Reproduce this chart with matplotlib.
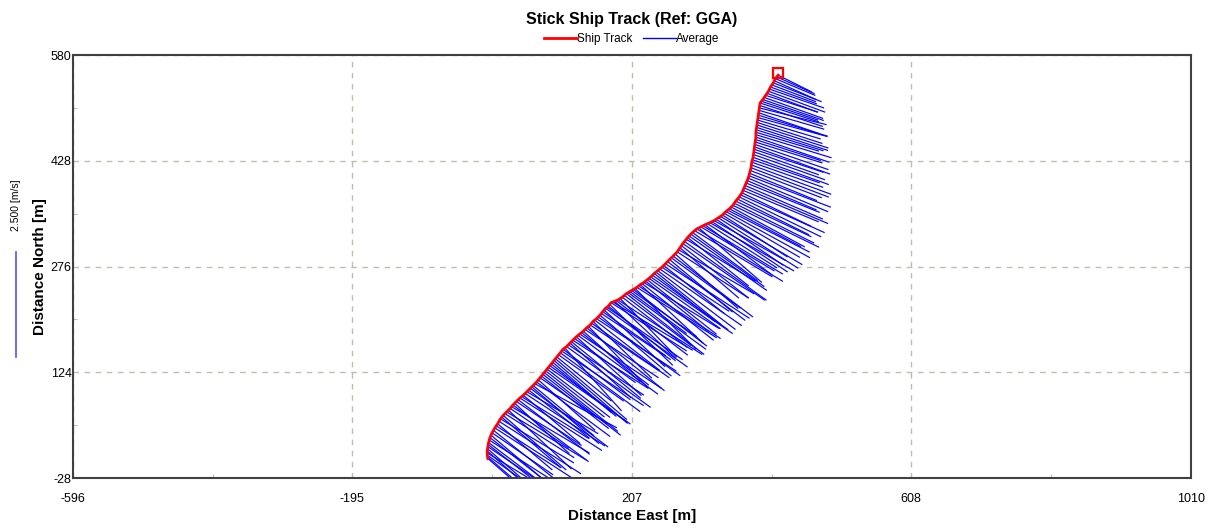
import matplotlib
matplotlib.use("Agg")
import matplotlib.pyplot as plt
import numpy as np
from matplotlib.collections import LineCollection
from matplotlib.lines import Line2D

plt.rcParams["font.family"] = ["Liberation Sans", "DejaVu Sans"]
plt.rcParams["axes.unicode_minus"] = False

# ship track (distance east / north from start, m), one point per ensemble
track_east = [
    0, -0.5, -1, -1, -1, -0.5, 0, 0.5, 1, 2, 3, 4.5, 6, 8, 10, 12, 14, 16, 18, 20, 22, 24.5,
    27, 29.5, 32, 34, 36, 38.5, 41, 43.5, 46, 48.5, 51, 53.5, 56, 58.5, 61, 63, 65, 67.5, 70,
    72.5, 75,
    77, 79, 81, 83, 85, 87, 89, 91, 93, 95, 97, 99, 101.5, 104, 106, 108, 110.5, 113, 115.5,
    118, 120, 122, 124.5, 127, 129.5, 132, 134.5, 137, 139.5, 142, 144.5, 147, 149, 151, 153.5,
    156, 158.5, 161, 163, 165, 167, 169, 171, 173, 175, 177, 179.5, 182, 184.5, 187, 190, 193,
    196, 199, 201.5, 204, 206.5, 209, 211.5, 214, 216.5, 219, 221.5, 224, 226.5, 229,
    231.5, 234, 236.5, 239, 241.5, 244, 247, 250, 252.5, 255, 258, 261, 263.5, 266, 269, 272,
    274, 276, 278, 280, 282.5, 285, 287, 289, 291.5, 294, 297, 300, 303, 306, 309, 312, 315.5,
    319, 322, 325, 328, 331, 334, 337,
    339.5, 342, 344.5, 347, 349.5, 352, 354, 356, 358.5, 361, 363, 365, 366.5, 368, 369.5, 371,
    372.5, 374, 375, 376, 377, 378, 378.5, 379, 380, 381,
    381.5, 382, 382.5, 383, 383.5, 384, 384.5, 385, 385, 385, 385.5, 386, 386.5, 387, 387.5,
    388, 388.5, 389, 389.5, 390, 390.5, 391,
    393, 395, 397, 399, 401, 403, 404.5, 406, 408, 410, 411.5, 413, 415, 417,
]
track_north = [
    0, 2.5, 5, 8, 11, 14, 17, 20, 23, 26.5, 30, 33.5, 37, 40.5, 44, 47, 50, 53.5, 57, 59.5, 62,
    64.5, 67, 69.5, 72, 74.5, 77, 79.5, 82, 84.5, 87, 89, 91, 93.5, 96, 98.5, 101, 103, 105,
    107.5, 110, 113, 116,
    118.5, 121, 123.5, 126, 128.5, 131, 133.5, 136, 138.5, 141, 143.5, 146, 149, 152, 154.5,
    157, 159, 161, 163.5, 166, 168, 170, 172.5, 175, 177, 179, 181, 183, 185.5, 188, 190, 192,
    194.5, 197, 199, 201, 203.5, 206, 208.5, 211, 213.5, 216, 217.5, 219, 221.5, 224, 225, 226,
    227, 228, 230, 232, 234.5, 237, 238.5, 240, 241.5, 243, 244.5, 246, 248, 250, 251.5, 253,
    255, 257,
    259, 261, 263.5, 266, 268, 270, 272.5, 275, 277.5, 280, 283, 286, 288.5, 291, 294, 297,
    300, 303, 306, 309, 312, 315, 317.5, 320, 322.5, 325, 327.5, 330, 331.5, 333, 334.5, 336,
    337.5, 339, 340.5, 342, 344, 346, 348, 350,
    352.5, 355, 357, 359, 361.5, 364, 367, 370, 373, 376, 379, 382, 385.5, 389, 392.5, 396,
    399.5, 403, 406.5, 410, 414, 418, 422, 426, 429.5, 433,
    437, 441, 444.5, 448, 451.5, 455, 458.5, 462, 465.5, 469, 472.5, 476, 479.5, 483, 486.5,
    490, 493.5, 497, 500.5, 504, 507.5, 511,
    513.5, 516, 519, 522, 525, 528, 531, 534, 537, 540, 543, 546, 548.5, 551,
]

# depth averaged current at each ensemble (m/s)
vel_east = [
    1.20, 1.40, 1.55, 1.65, 1.35, 1.50, 1.70, 1.35, 1.25, 1.80, 1.60, 1.30, 1.45, 1.70, 1.85,
    1.55, 1.30, 1.95, 1.75, 1.40, 1.50, 1.65, 1.90, 1.50, 1.40, 1.85, 1.80, 1.30, 1.55, 1.70,
    1.95, 1.60, 1.35, 1.90, 1.70, 1.45, 1.85, 1.60, 1.45, 1.95, 1.75, 1.35, 1.60,
    1.60, 1.85, 1.75, 1.40, 1.50, 1.95, 1.85, 1.55, 1.40, 1.75, 1.70, 1.30, 1.55, 1.90, 1.95,
    1.60, 1.35, 2.00, 1.80, 1.45, 1.65, 1.80, 1.45, 1.55, 1.90, 1.95, 1.60, 1.35, 1.75, 1.85,
    1.40, 1.65, 1.85, 1.40, 1.55, 1.90, 1.95, 1.70, 1.65, 1.50, 1.45, 1.95, 1.80, 1.60, 1.50,
    1.80, 1.90, 1.45, 1.70, 2.00, 1.35, 1.55, 1.60, 1.85, 1.85, 1.35, 1.55, 1.75, 1.45, 1.90,
    1.95, 1.50, 1.70, 1.80, 1.50, 1.65,
    1.70, 1.95, 1.80, 1.45, 1.55, 1.85, 1.95, 1.60, 1.45, 2.00, 1.85, 1.50, 1.65, 1.90, 1.50,
    1.70, 1.80, 1.40, 1.60, 1.95, 1.95, 1.65, 1.45, 1.85, 1.75, 1.55, 1.85, 2.05, 1.50, 1.75,
    1.90, 1.60, 1.65, 2.00, 1.80, 1.70, 1.60, 1.90, 1.95, 1.55,
    1.80, 2.00, 1.95, 1.70, 1.75, 2.05, 1.90, 1.80, 1.70, 1.95, 2.00, 1.65, 1.80, 2.00, 1.85,
    1.75, 1.65, 1.90, 1.95, 1.60, 1.70, 1.85, 1.90, 1.70, 1.60, 1.80,
    1.70, 1.55, 1.65, 1.80, 1.75, 1.60, 1.55, 1.75, 1.80, 1.50, 1.60, 1.70, 1.70, 1.55, 1.50,
    1.65, 1.65, 1.45, 1.55, 1.60, 1.50, 1.40,
    1.35, 1.45, 1.40, 1.25, 1.20, 1.35, 1.30, 1.10, 1.05, 1.15, 1.00, 0.95, 0.90, 0.80,
]
vel_north = [
    -1.05, -1.20, -1.10, -1.00, -1.20, -1.30, -1.15, -1.05, -0.95, -1.15, -1.25, -1.10, -1.00,
    -1.35, -1.20, -1.00, -1.10, -1.25, -1.05, -1.20, -1.30, -1.05, -1.15, -1.40, -0.95, -1.10,
    -1.35, -1.20, -1.05, -1.30, -1.25, -1.00, -1.15, -1.25, -1.00, -1.15, -1.40, -1.35, -1.20,
    -1.05, -1.30, -1.20, -1.10,
    -1.25, -1.45, -1.40, -1.10, -1.15, -1.35, -1.35, -1.25, -1.20, -1.50, -1.45, -1.05, -1.10,
    -1.40, -1.30, -1.20, -1.50, -1.45, -1.20, -1.30, -1.35, -1.15, -1.05, -1.40, -1.40, -1.30,
    -1.25, -1.20, -1.15, -1.50, -1.45, -1.10, -1.30, -1.35, -1.20, -1.25, -1.40, -1.45, -1.10,
    -1.05, -1.35, -1.40, -1.25, -1.30, -1.45, -1.15, -1.15, -1.35, -1.30, -1.30, -1.40, -1.20,
    -1.20, -1.45, -1.35, -1.00, -1.10, -1.35, -1.45, -1.20, -1.25, -1.40, -1.35, -1.10, -1.20,
    -1.30,
    -1.20, -1.35, -1.30, -1.15, -1.25, -1.40, -1.35, -1.05, -1.15, -1.30, -1.40, -1.25, -1.20,
    -1.45, -1.30, -1.10, -1.05, -1.20, -1.25, -1.35, -1.40, -1.00, -1.15, -1.30, -1.25, -1.15,
    -1.10, -1.25, -1.30, -1.05, -1.15, -1.20, -1.05, -1.15, -1.20, -0.95, -1.10, -1.20, -1.15,
    -1.00,
    -1.05, -1.10, -1.00, -0.90, -0.95, -1.00, -0.95, -0.85, -0.85, -0.95, -0.90, -0.80, -0.75,
    -0.85, -0.80, -0.70, -0.70, -0.80, -0.75, -0.65, -0.65, -0.70, -0.70, -0.60, -0.55, -0.65,
    -0.60, -0.55, -0.55, -0.65, -0.60, -0.50, -0.50, -0.60, -0.55, -0.45, -0.50, -0.55, -0.55,
    -0.50, -0.45, -0.45, -0.50, -0.50, -0.45, -0.40, -0.50, -0.45,
    -0.45, -0.50, -0.50, -0.40, -0.45, -0.50, -0.45, -0.40, -0.40, -0.45, -0.45, -0.40, -0.40,
    -0.40,
]

x_ticks = [-596, -195, 207, 608, 1010]
y_ticks = [-28, 124, 276, 428, 580]
stick_ref = 2.5          # m/s shown by the scale bar
m_per_ms = 60.4          # stick length scale, m per (m/s)

fig = plt.figure(figsize=(12.17, 5.30), dpi=100)
ax = fig.add_axes([0.0600, 0.0981, 0.9186, 0.7981])

e = np.array(track_east, dtype=float)
n = np.array(track_north, dtype=float)
ve = np.array(vel_east)
vn = np.array(vel_north)
k = min(len(e), len(n), len(ve), len(vn))

segs = [[(e[i], n[i]), (e[i] + ve[i] * m_per_ms, n[i] + vn[i] * m_per_ms)] for i in range(k)]
ax.add_collection(LineCollection(segs, colors="#0000ff", linewidths=0.85, zorder=2))
ax.plot(e, n, color="#ff0000", lw=2.0, zorder=3, label="Ship Track")
ax.plot(e[-1], n[-1] + 3, marker="s", ms=7.5, mfc="none", mec="#ff0000", mew=1.6, zorder=4)
ax.plot([], [], color="#0000ff", lw=1.0, label="Average")

ax.set_xlim(x_ticks[0], x_ticks[-1])
ax.set_ylim(y_ticks[0], y_ticks[-1])
ax.set_xticks(x_ticks)
ax.set_yticks(y_ticks)
ax.set_xticks([(a + b) / 2 for a, b in zip(x_ticks[:-1], x_ticks[1:])], minor=True)
ax.set_yticks([(a + b) / 2 for a, b in zip(y_ticks[:-1], y_ticks[1:])], minor=True)
ax.tick_params(which="major", length=0, labelsize=9)
ax.tick_params(axis="x", which="major", pad=11)
ax.tick_params(axis="y", which="major", pad=1)
ax.tick_params(which="minor", direction="in", length=3, color="#b0b0a8")
ax.grid(True, which="major", color="#bdbdb0", ls=(0, (4, 4)), lw=1.0)
for s in ax.spines.values():
    s.set_color("#404040")
    s.set_linewidth(1.5)

ax.set_xlabel("Distance East [m]", fontsize=11, fontweight="bold", labelpad=3)
ax.set_ylabel("Distance North [m]", fontsize=11, fontweight="bold", va="center")
ax.yaxis.set_label_coords(-0.0295, 0.5)
fig.text(0.519, 0.964, "Stick Ship Track (Ref: GGA)", ha="center", va="center",
         fontsize=11.5, fontweight="bold")
ax.legend(loc="center", bbox_to_anchor=(0.5, 1.038), ncol=2, frameon=False, fontsize=8.5,
          handlelength=2.8, handletextpad=0.0, columnspacing=0.9, borderaxespad=0)

# scale bar for the sticks, left margin
fig_h = fig.get_figheight() * fig.dpi
px_per_m = ax.get_position().height * fig_h / (y_ticks[-1] - y_ticks[0])
bar_px = stick_ref * m_per_ms * px_per_m
x_bar = 16 / (fig.get_figwidth() * fig.dpi)
y_top = 1 - 252 / fig_h
fig.add_artist(Line2D([x_bar, x_bar], [y_top - bar_px / fig_h, y_top],
                      transform=fig.transFigure, color="#5050ff", lw=1.2))
fig.text(x_bar, 1 - 205 / fig_h, "2.500 [m/s]", rotation=90, ha="center", va="center", fontsize=7.5)

fig.savefig("out.png", dpi=100)
